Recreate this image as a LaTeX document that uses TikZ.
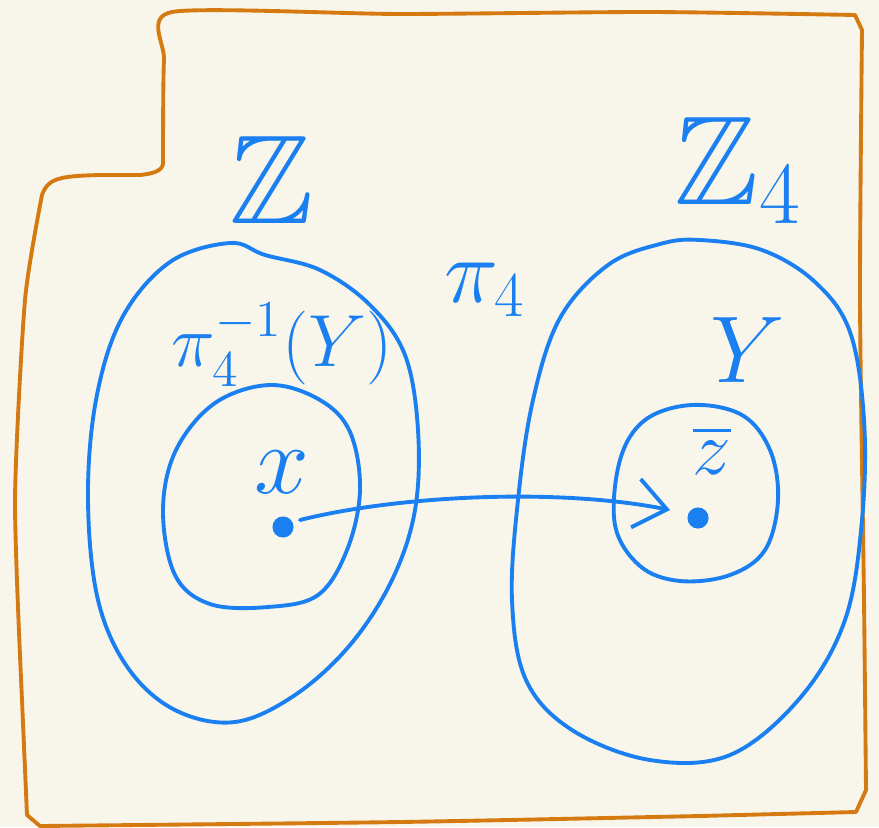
\RequirePackage{fix-cm}
\documentclass[tikz,border=0pt]{standalone}
\usepackage{amsmath, amssymb}
\usepackage{tikz}
\usetikzlibrary{arrows.meta}
\definecolor{paper}{HTML}{F8F5EA}
\definecolor{pen}{HTML}{1A7FF0}
\definecolor{rim}{HTML}{D47A10}
\begin{document}
\begin{tikzpicture}[x=0.01cm, y=-0.01cm,
            blueline/.style={pen, line width=1.1pt, line cap=round, line join=round},
            rimline/.style={rim, line width=1.1pt, line cap=round, line join=round},
            lbl/.style={pen, inner sep=0pt},
            pt/.style={circle, fill=pen, inner sep=0pt, minimum size=6pt}]
            \useasboundingbox[fill=paper] (0,0) rectangle (879,827);
            % outer frame
            \draw[rimline] plot[smooth, tension=0.4] coordinates {(163,160) (164,60) (172,12) (400,14) (650,12) (855,15)}
                -- plot[smooth, tension=0.4] coordinates {(862,30) (860,300) (864,600) (866,790)}
                -- (856,812) -- plot[smooth, tension=0.4] coordinates {(700,816) (400,822) (40,826)}
                -- (27,815) -- plot[smooth, tension=0.4] coordinates {(22,700) (15,500) (25,300) (42,195)}
                .. controls (48,178) and (60,176) .. (100,175) -- (140,175) .. controls (160,173) and (164,168) .. (163,160);
            % preimage side
            \draw[blueline] plot[smooth cycle, tension=0.6] coordinates {(265,255) (320,270) (370,305) (405,355) (418,430) (415,510) (392,580) (350,645) (295,695) (235,722) (175,710) (128,668) (98,600) (88,500) (96,400) (122,318) (170,262) (230,243)};
            \draw[blueline] plot[smooth cycle, tension=0.6] coordinates {(270,385) (320,400) (350,432) (360,490) (347,550) (318,595) (268,607) (210,604) (175,575) (163,510) (176,450) (215,403)};
            % image side
            \draw[blueline] plot[smooth cycle, tension=0.6] coordinates {(700,240) (762,250) (815,282) (850,332) (864,420) (862,520) (845,620) (800,698) (730,755) (650,760) (572,730) (526,680) (512,600) (518,500) (533,400) (560,318) (608,265) (660,244)};
            \draw[blueline] plot[smooth cycle, tension=0.6] coordinates {(692,405) (742,415) (770,450) (778,500) (765,550) (730,575) (680,581) (640,566) (615,525) (620,460) (645,420)};
            \node[lbl, font=\fontsize{36}{40}\selectfont] (zz) at (272,180) {$\mathbb{Z}$};
            \node[lbl, font=\fontsize{36}{40}\selectfont] (zzfour) at (738,170) {$\mathbb{Z}_4$};
            \node[lbl, font=\fontsize{26}{30}\selectfont] (pimap) at (485,290) {$\pi_4$};
            \node[lbl, font=\fontsize{21}{25}\selectfont] (preim) at (282,345) {$\pi_4^{-1}(Y)$};
            \node[lbl, font=\fontsize{27}{30}\selectfont] (Y) at (748,350) {$Y$};
            \node[lbl, font=\fontsize{22}{26}\selectfont] (zbar) at (712,450) {$\overline{z}$};
            \node[lbl, font=\fontsize{28}{32}\selectfont] (x) at (282,472) {$x$};
            \node[pt] (xpt) at (283,527) {};
            \node[pt] (zpt) at (698,518) {};
            \draw[blueline, -{Straight Barb[length=9pt, width=14pt, line width=1.1pt]}] (300,520) .. controls (400,495) and (560,488) .. (670,510);
\end{tikzpicture}
\end{document}
